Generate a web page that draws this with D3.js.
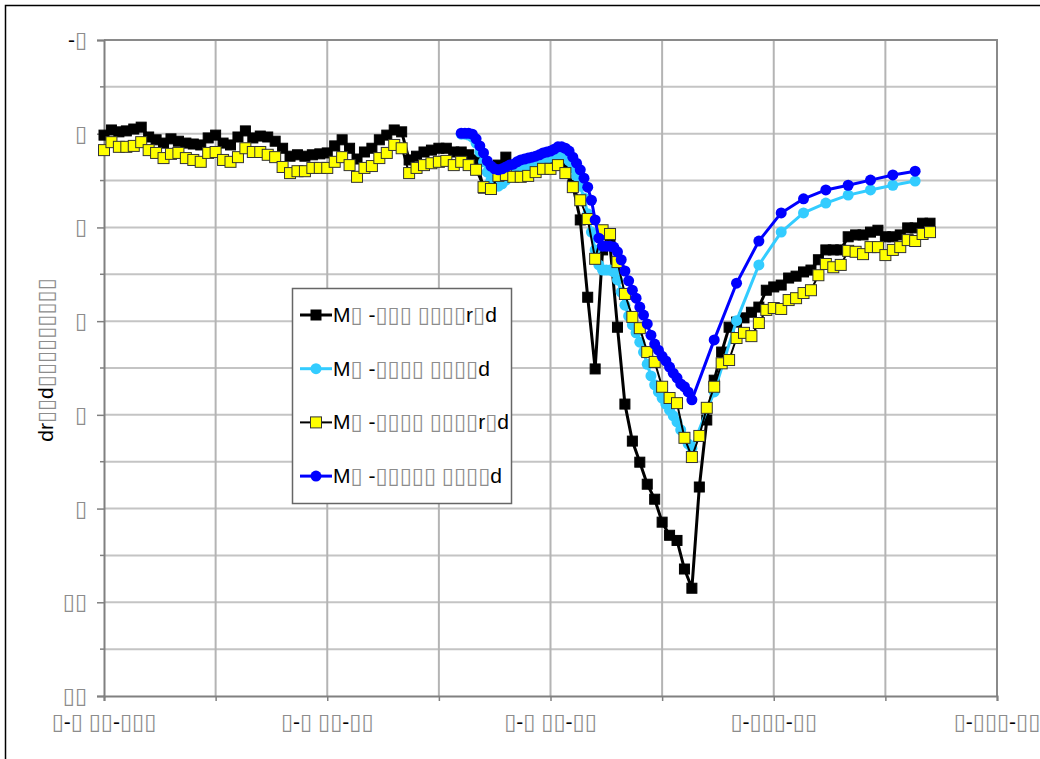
<!DOCTYPE html>
<html><head><meta charset="utf-8">
<script src="https://cdn.jsdelivr.net/npm/d3@7"></script>
<style>body{margin:0;background:#fff}svg{display:block}</style>
</head><body>
<svg id="chart" width="1040" height="759"></svg>
<script>
// Labels
const seriesNames = ["M▯ -▯▯▯ ▯▯▯▯r▯d", "M▯ -▯▯▯▯ ▯▯▯▯d", "M▯ -▯▯▯▯ ▯▯▯▯r▯d", "M▯ -▯▯▯▯▯ ▯▯▯▯d"];
const yTitle = "dr▯▯d▯▯▯▯▯▯▯▯▯";
const xTickValues = [0, 30, 60, 90, 120];
const xTickLabels = ["▯-▯ ▯▯-▯▯▯", "▯-▯ ▯▯-▯▯", "▯-▯ ▯▯-▯▯", "▯-▯▯▯-▯▯", "▯-▯▯▯-▯▯"];
const yTickValues = [-2, 0, 2, 4, 6, 8, 10, 12];
const yTickLabels = ["-▯", "▯", "▯", "▯", "▯", "▯", "▯▯", "▯▯"];

// Daily readings (day 0 .. 111)
const dailyDays = d3.range(0, 112);
const m1Values = [0.03,-0.08,-0.04,-0.06,-0.10,-0.14,0.07,0.13,0.20,0.11,
 0.16,0.20,0.22,0.24,0.09,0.03,0.20,0.24,0.07,-0.06,
 0.09,0.05,0.07,0.16,0.31,0.48,0.45,0.48,0.45,0.43,
 0.41,0.26,0.13,0.31,0.54,0.39,0.31,0.13,0.03,-0.08,
 -0.04,0.56,0.48,0.39,0.35,0.31,0.31,0.39,0.39,0.45,
 0.56,1.16,1.12,0.67,0.50,0.77,0.82,0.82,0.77,0.69,
 0.63,0.56,0.73,1.10,1.84,3.49,5.02,2.48,2.38,4.13,
 5.77,6.56,7.01,7.48,7.80,8.29,8.57,8.68,9.29,9.70,
 7.54,6.11,5.26,4.66,4.13,4.02,3.93,3.81,3.70,3.34,
 3.27,3.23,3.08,3.04,2.95,2.91,2.69,2.48,2.48,2.48,
 2.20,2.16,2.16,2.10,2.06,2.20,2.20,2.16,2.01,2.01,
 1.91,1.91];
const m3Values = [0.35,0.18,0.28,0.28,0.26,0.18,0.35,0.41,0.52,0.43,
 0.41,0.52,0.56,0.60,0.41,0.39,0.56,0.60,0.50,0.31,
 0.39,0.39,0.45,0.50,0.71,0.84,0.80,0.80,0.73,0.73,
 0.73,0.60,0.50,0.67,0.92,0.73,0.69,0.52,0.41,0.24,
 0.31,0.84,0.73,0.67,0.63,0.60,0.58,0.67,0.60,0.67,
 0.77,1.14,1.18,0.90,0.88,0.92,0.92,0.90,0.82,0.75,
 0.75,0.67,0.84,1.14,1.42,1.82,2.67,2.06,2.14,2.74,
 3.42,3.91,4.15,4.66,4.87,5.40,5.64,5.75,6.49,6.90,
 6.45,5.85,5.40,4.90,4.83,4.36,4.25,4.32,4.04,3.76,
 3.72,3.74,3.55,3.51,3.40,3.34,3.02,2.78,2.85,2.80,
 2.50,2.52,2.57,2.42,2.42,2.59,2.48,2.42,2.27,2.29,
 2.14,2.10];

// Computed series: half-day steps from day 48 to 79, then every 3 days
const calcDays = d3.range(96, 159).map(d => d / 2).concat([82, 85, 88, 91, 94, 97, 100, 103, 106, 109]);
const m2Values = [0.01,0.01,0.03,0.07,0.20,0.39,0.60,0.82,0.99,1.10,
 1.12,1.07,0.99,0.92,0.88,0.82,0.77,0.73,0.69,0.65,
 0.63,0.60,0.56,0.52,0.50,0.48,0.45,0.45,0.50,0.58,
 0.73,0.90,1.12,1.37,1.71,2.10,2.48,2.80,2.91,2.91,
 2.91,2.95,3.12,3.38,3.66,3.89,4.08,4.25,4.45,4.66,
 4.92,5.17,5.36,5.51,5.64,5.77,5.90,6.02,6.15,6.32,
 6.47,6.62,6.71,
 5.51,3.99,2.80,2.10,1.69,1.48,1.31,1.20,1.10,1.01];
const m4Values = [-0.01,-0.01,-0.01,0.01,0.11,0.26,0.41,0.58,0.69,0.75,
 0.77,0.75,0.71,0.67,0.65,0.60,0.56,0.54,0.52,0.50,
 0.48,0.45,0.41,0.39,0.37,0.33,0.28,0.28,0.31,0.37,
 0.50,0.63,0.77,0.95,1.14,1.42,1.84,2.23,2.40,2.40,
 2.40,2.42,2.52,2.69,2.93,3.14,3.34,3.51,3.70,3.87,
 4.06,4.30,4.49,4.62,4.75,4.85,4.98,5.11,5.21,5.34,
 5.40,5.51,5.68,
 4.40,3.19,2.29,1.69,1.39,1.20,1.10,0.99,0.88,0.80];

const series = [
  {name: seriesNames[0], days: dailyDays, values: m1Values, line: "#000", lw: 3, marker: "square", fill: "#000", stroke: "#000", size: 10},
  {name: seriesNames[1], days: calcDays, values: m2Values, line: "#33CCFF", lw: 3, marker: "circle", fill: "#33CCFF", stroke: "#33CCFF", size: 11},
  {name: seriesNames[2], days: dailyDays, values: m3Values, line: "#000", lw: 2, marker: "square", fill: "#FFFF00", stroke: "#333", size: 11},
  {name: seriesNames[3], days: calcDays, values: m4Values, line: "#0000FF", lw: 3, marker: "circle", fill: "#0000FF", stroke: "#0000FF", size: 11}
];

const FONT = "'Liberation Sans', Arial, 'DejaVu Sans', sans-serif";
const svg = d3.select("#chart");
const pLeft = 104, pRight = 997, pTop = 40, pBottom = 696;
const x = d3.scaleLinear().domain([0, 120]).range([pLeft, pRight]);
const y = d3.scaleLinear().domain([-2, 12]).range([pTop, pBottom]);

// Writes a label; box glyphs are drawn larger and in grey
function writeLabel(t, str) {
  for (const ch of str) {
    const box = ch === "▯";
    t.append("tspan").attr("fill", box ? "#8c8c8c" : "#000")
      .attr("font-size", box ? 22 : 21).text(ch);
  }
}

// outer frame
svg.append("path").attr("d", "M5.5,759V5.5H1040").attr("fill", "none").attr("stroke", "#000").attr("stroke-width", 1.5);

// grid
const grid = svg.append("g");
grid.selectAll("line.h").data(d3.range(-1, 12)).join("line")
  .attr("x1", pLeft).attr("x2", pRight).attr("y1", d => y(d)).attr("y2", d => y(d))
  .attr("stroke", "#c4c4c4").attr("stroke-width", 2);
grid.selectAll("line.v").data(d3.range(15, 120, 15)).join("line")
  .attr("y1", pTop).attr("y2", pBottom).attr("x1", d => x(d)).attr("x2", d => x(d))
  .attr("stroke", "#b4b4b4").attr("stroke-width", 2);
svg.append("path").attr("d", `M${pLeft},${pTop}H${pRight}V${pBottom}`).attr("fill", "none")
  .attr("stroke", "#8a8a8a").attr("stroke-width", 2);

// axes
const yAxis = d3.axisLeft(y).tickValues(yTickValues).tickSize(7).tickFormat("");
const gy = svg.append("g").attr("transform", `translate(${pLeft},0)`).call(yAxis);
gy.selectAll("line").attr("stroke", "#808080").attr("stroke-width", 1.5);
gy.select(".domain").attr("stroke", "#808080").attr("stroke-width", 2);
svg.append("g").selectAll("line").data(d3.range(-1, 12, 2)).join("line")
  .attr("x1", pLeft - 4).attr("x2", pLeft).attr("y1", d => y(d)).attr("y2", d => y(d))
  .attr("stroke", "#808080").attr("stroke-width", 1.5);
yTickValues.forEach((v, i) => {
  const t = svg.append("text").attr("x", 87).attr("y", y(v) + 7).attr("text-anchor", "end")
    .attr("font-family", FONT);
  writeLabel(t, yTickLabels[i]);
});

const xAxis = d3.axisBottom(x).tickValues(d3.range(0, 121, 15)).tickSize(5).tickFormat("");
const gx = svg.append("g").attr("transform", `translate(0,${pBottom})`).call(xAxis);
gx.selectAll("line").attr("stroke", "#808080").attr("stroke-width", 1.5);
gx.select(".domain").attr("stroke", "#808080").attr("stroke-width", 2);
xTickValues.forEach((v, i) => {
  const t = svg.append("text").attr("x", x(v)).attr("y", 729).attr("text-anchor", "middle")
    .attr("font-family", FONT);
  writeLabel(t, xTickLabels[i]);
});

// y title
const yt = svg.append("text").attr("transform", "translate(53,360) rotate(-90)").attr("text-anchor", "middle")
  .attr("font-family", FONT);
writeLabel(yt, yTitle);

// series
function drawMarker(g, s, cx, cy) {
  if (s.marker === "square") {
    g.append("rect").attr("x", cx - s.size / 2).attr("y", cy - s.size / 2)
      .attr("width", s.size).attr("height", s.size)
      .attr("fill", s.fill).attr("stroke", s.stroke).attr("stroke-width", 1);
  } else {
    g.append("circle").attr("cx", cx).attr("cy", cy).attr("r", s.size / 2).attr("fill", s.fill);
  }
}
const lineGen = d3.line().x(d => x(d[0])).y(d => y(d[1]));
series.forEach(s => {
  const pts = s.days.map((d, i) => [d, s.values[i]]);
  const g = svg.append("g");
  g.append("path").datum(pts).attr("d", lineGen).attr("fill", "none")
    .attr("stroke", s.line).attr("stroke-width", s.lw).attr("stroke-linejoin", "round");
  pts.forEach(p => drawMarker(g, s, x(p[0]), y(p[1])));
});

// legend
const lg = svg.append("g");
lg.append("rect").attr("x", 292.5).attr("y", 288.5).attr("width", 219).attr("height", 215)
  .attr("fill", "#fff").attr("stroke", "#666").attr("stroke-width", 1.5);
series.forEach((s, i) => {
  const cy = 315 + i * 53.7;
  lg.append("line").attr("x1", 300).attr("x2", 332).attr("y1", cy).attr("y2", cy)
    .attr("stroke", s.line).attr("stroke-width", s.lw);
  drawMarker(lg, s, 316, cy);
  const t = lg.append("text").attr("x", 333).attr("y", cy + 7).attr("font-family", FONT);
  writeLabel(t, s.name);
});
</script>
</body></html>
